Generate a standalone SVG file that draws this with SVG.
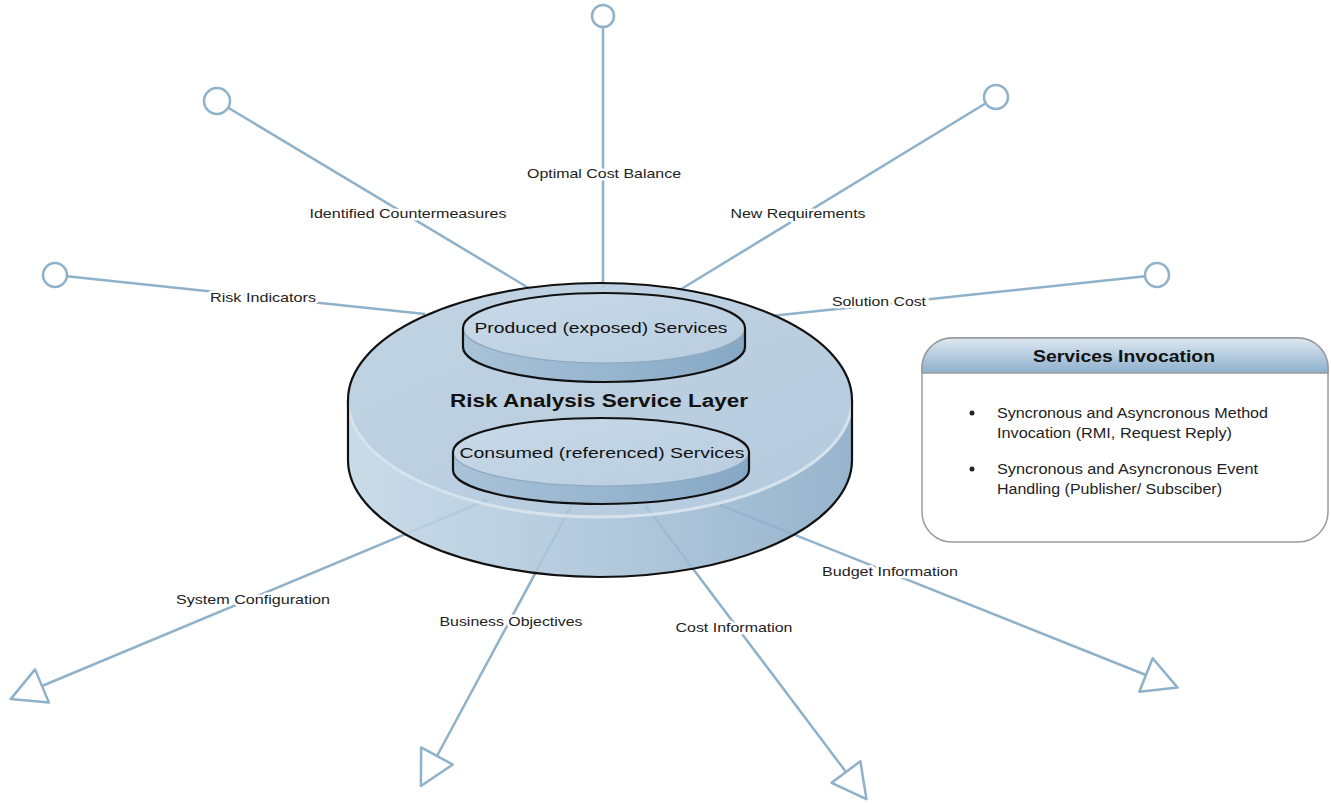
<svg xmlns="http://www.w3.org/2000/svg" width="1331" height="805" viewBox="0 0 1331 805">
<defs>
<style>
.conn{stroke:#8fb1c9;stroke-width:2.5;fill:none}
.lolli{fill:#fff;stroke:#8fb1c9;stroke-width:2.5}
.lbl{font-family:"Liberation Sans",Arial,sans-serif;font-size:13.5px;fill:#222;text-anchor:middle;stroke:#fff;stroke-width:5px;paint-order:stroke;stroke-linejoin:round}
.outline{stroke:#111;stroke-width:2.2;fill:none}
.hl{stroke:#d6e3ed;stroke-width:3;fill:none}
.disctxt{font-family:"Liberation Sans",Arial,sans-serif;fill:#111;text-anchor:middle}
.boxtxt{font-family:"Liberation Sans",Arial,sans-serif;font-size:14px;fill:#222}
</style>
<marker id="tri" viewBox="-3 -3 42 42" refX="0" refY="18" markerWidth="42" markerHeight="42" markerUnits="userSpaceOnUse" orient="auto">
<path d="M0,0 L34,18 L0,36 Z" fill="#fff" stroke="#8fb1c9" stroke-width="2.5" stroke-linejoin="round"/>
</marker>
<linearGradient id="sideG" x1="0" y1="0" x2="1" y2="0">
<stop offset="0" stop-color="#c3d6e5"/>
<stop offset="0.5" stop-color="#a9c3d8"/>
<stop offset="1" stop-color="#88aac6"/>
</linearGradient>
<linearGradient id="topG" x1="0" y1="0" x2="1" y2="1">
<stop offset="0" stop-color="#b9cee0"/>
<stop offset="1" stop-color="#aac3d8"/>
</linearGradient>
<linearGradient id="innerTopG" x1="0" y1="0" x2="1" y2="1">
<stop offset="0" stop-color="#c9dae8"/>
<stop offset="1" stop-color="#b8cde0"/>
</linearGradient>
<linearGradient id="innerSideG" x1="0" y1="0" x2="1" y2="0">
<stop offset="0" stop-color="#a9c3d8"/>
<stop offset="1" stop-color="#86a8c5"/>
</linearGradient>
<linearGradient id="hdrG" x1="0" y1="0" x2="0" y2="1">
<stop offset="0" stop-color="#dde8f1"/>
<stop offset="1" stop-color="#8eb0cc"/>
</linearGradient>
</defs>
<rect width="1331" height="805" fill="#fff"/>

<g id="connectors">
<line class="conn" x1="603" y1="16" x2="603" y2="288"/>
<line class="conn" x1="217" y1="101" x2="532" y2="290"/>
<line class="conn" x1="996" y1="97" x2="678" y2="291"/>
<line class="conn" x1="55" y1="275" x2="425" y2="314"/>
<line class="conn" x1="1157" y1="275" x2="771" y2="316"/>
<line class="conn" x1="487" y1="500" x2="42" y2="686" marker-end="url(#tri)"/>
<line class="conn" x1="572" y1="505" x2="437" y2="756" marker-end="url(#tri)"/>
<line class="conn" x1="645" y1="505" x2="846" y2="772" marker-end="url(#tri)"/>
<line class="conn" x1="720" y1="505" x2="1146" y2="675" marker-end="url(#tri)"/>
<circle class="lolli" cx="603" cy="16" r="11"/>
<circle class="lolli" cx="217" cy="101" r="13"/>
<circle class="lolli" cx="996" cy="97" r="12"/>
<circle class="lolli" cx="55" cy="275" r="12"/>
<circle class="lolli" cx="1157" cy="275" r="12"/>
<text class="lbl" x="604" y="178" textLength="154" lengthAdjust="spacingAndGlyphs">Optimal Cost Balance</text>
<text class="lbl" x="408" y="218" textLength="197" lengthAdjust="spacingAndGlyphs">Identified Countermeasures</text>
<text class="lbl" x="798" y="218" textLength="135" lengthAdjust="spacingAndGlyphs">New Requirements</text>
<text class="lbl" x="263" y="302" textLength="106" lengthAdjust="spacingAndGlyphs">Risk Indicators</text>
<text class="lbl" x="879" y="306" textLength="94" lengthAdjust="spacingAndGlyphs">Solution Cost</text>
<text class="lbl" x="253" y="604" textLength="154" lengthAdjust="spacingAndGlyphs">System Configuration</text>
<text class="lbl" x="511" y="626" textLength="143" lengthAdjust="spacingAndGlyphs">Business Objectives</text>
<text class="lbl" x="734" y="632" textLength="117" lengthAdjust="spacingAndGlyphs">Cost Information</text>
<text class="lbl" x="890" y="576" textLength="136" lengthAdjust="spacingAndGlyphs">Budget Information</text>
</g>

<g id="risk-analysis-layer">
<path d="M348,400 A252,117 0 0 0 852,400 L852,460 A252,117 0 0 1 348,460 Z" fill="url(#sideG)" fill-opacity="0.88"/>
<ellipse cx="600" cy="400" rx="252" ry="117" fill="url(#topG)" fill-opacity="0.88"/>
<path class="hl" d="M348,400 A252,117 0 0 0 852,400"/>
<path class="outline" d="M348,400 A252,117 0 0 1 852,400 L852,460 A252,117 0 0 1 348,460 Z"/>
<text class="disctxt" x="599" y="407" font-size="18" font-weight="bold" textLength="298" lengthAdjust="spacingAndGlyphs">Risk Analysis Service Layer</text>
</g>

<g id="produced-services">
<path d="M463,328 A141,35 0 0 0 745,328 L745,347 A141,35 0 0 1 463,347 Z" fill="url(#innerSideG)"/>
<ellipse cx="604" cy="328" rx="141" ry="35" fill="url(#innerTopG)"/>
<path d="M463,328 A141,35 0 0 0 745,328" stroke="#8ea9bf" stroke-width="1.2" fill="none"/>
<path class="outline" d="M463,328 A141,35 0 0 1 745,328 L745,347 A141,35 0 0 1 463,347 Z"/>
<text class="disctxt" x="601" y="333" font-size="15" textLength="253" lengthAdjust="spacingAndGlyphs">Produced (exposed) Services</text>
</g>

<g id="consumed-services">
<path d="M453,452 A148,34 0 0 0 749,452 L749,470 A148,34 0 0 1 453,470 Z" fill="url(#innerSideG)"/>
<ellipse cx="601" cy="452" rx="148" ry="34" fill="url(#innerTopG)"/>
<path d="M453,452 A148,34 0 0 0 749,452" stroke="#8ea9bf" stroke-width="1.2" fill="none"/>
<path class="outline" d="M453,452 A148,34 0 0 1 749,452 L749,470 A148,34 0 0 1 453,470 Z"/>
<text class="disctxt" x="602" y="458" font-size="15" textLength="285" lengthAdjust="spacingAndGlyphs">Consumed (referenced) Services</text>
</g>

<g id="services-invocation">
<rect x="922" y="338" width="406" height="204" rx="30" ry="30" fill="#fff" stroke="#9a9a9a" stroke-width="1.5"/>
<path d="M922,373 L922,368 A30,30 0 0 1 952,338 L1298,338 A30,30 0 0 1 1328,368 L1328,373 Z" fill="url(#hdrG)" stroke="#9a9a9a" stroke-width="1.5"/>
<text x="1124" y="362" font-family="'Liberation Sans',Arial,sans-serif" font-size="16" font-weight="bold" fill="#111" text-anchor="middle" textLength="182" lengthAdjust="spacingAndGlyphs">Services Invocation</text>
<circle cx="972" cy="413" r="2.5" fill="#222"/>
<circle cx="972" cy="469" r="2.5" fill="#222"/>
<text class="boxtxt" x="997" y="418" textLength="271" lengthAdjust="spacingAndGlyphs">Syncronous and Asyncronous Method</text>
<text class="boxtxt" x="997" y="438" textLength="235" lengthAdjust="spacingAndGlyphs">Invocation (RMI, Request Reply)</text>
<text class="boxtxt" x="997" y="474" textLength="261" lengthAdjust="spacingAndGlyphs">Syncronous and Asyncronous Event</text>
<text class="boxtxt" x="997" y="494" textLength="225" lengthAdjust="spacingAndGlyphs">Handling (Publisher/ Subsciber)</text>
</g>
</svg>
